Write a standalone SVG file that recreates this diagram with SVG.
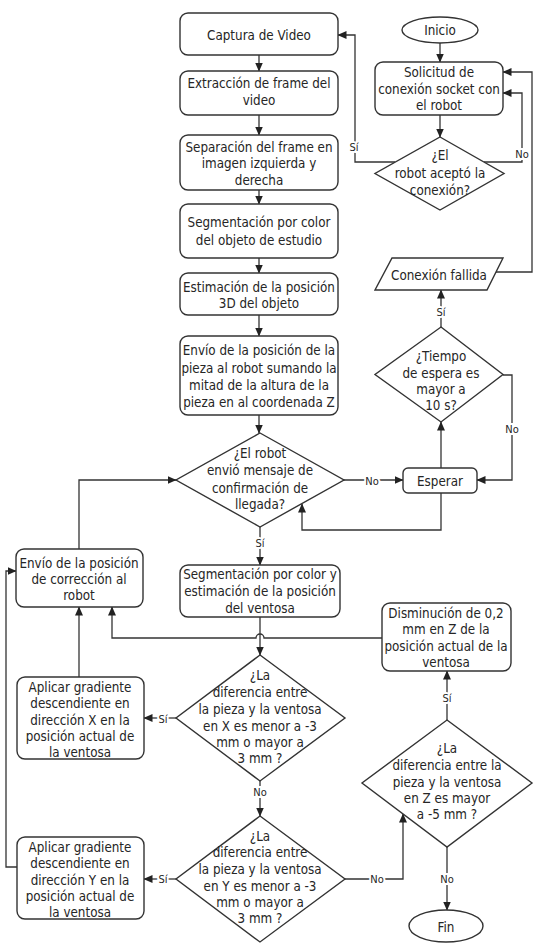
<svg xmlns="http://www.w3.org/2000/svg" width="542" height="951" viewBox="0 0 542 951">
<style>
.b{fill:#fff;stroke:#333;stroke-width:1.4}
.t{font-family:"DejaVu Sans Condensed","DejaVu Sans",sans-serif;font-size:13.3px;fill:#262626;text-anchor:middle;dominant-baseline:central}
.l{fill:none;stroke:#333;stroke-width:1.3}
.lb{font-family:"DejaVu Sans Condensed","DejaVu Sans",sans-serif;font-size:11px;fill:#262626;text-anchor:middle;dominant-baseline:central;stroke:#fff;stroke-width:4;paint-order:stroke}
</style>
<defs>
<marker id="a" markerWidth="9" markerHeight="8" refX="8.5" refY="4" orient="auto" markerUnits="userSpaceOnUse">
<path d="M0,0 L9,4 L0,8 Z" fill="#222"/>
</marker>
</defs>
<rect width="542" height="951" fill="#fff"/>

<g id="connectors">
<path class="l" d="M440,43 V62" marker-end="url(#a)"/>
<path class="l" d="M440,115 V137" marker-end="url(#a)"/>
<path class="l" d="M395,162 H355 V35 H338" marker-end="url(#a)"/>
<path class="l" d="M484,162 H522 V93 H503" marker-end="url(#a)"/>
<path class="l" d="M496,272 H532 V72 H503" marker-end="url(#a)"/>
<path class="l" d="M259,55 V71" marker-end="url(#a)"/>
<path class="l" d="M259,115 V135" marker-end="url(#a)"/>
<path class="l" d="M259,190 V204" marker-end="url(#a)"/>
<path class="l" d="M259,258 V273" marker-end="url(#a)"/>
<path class="l" d="M259,315 V336" marker-end="url(#a)"/>
<path class="l" d="M259,415 V433" marker-end="url(#a)"/>
<path class="l" d="M441,327 V290" marker-end="url(#a)"/>
<path class="l" d="M503,375 H512 V480 H477" marker-end="url(#a)"/>
<path class="l" d="M441,468 V422" marker-end="url(#a)"/>
<path class="l" d="M344,480 H403" marker-end="url(#a)"/>
<path class="l" d="M441,493 V530 H302 V504" marker-end="url(#a)"/>
<path class="l" d="M79,549 V480 H176" marker-end="url(#a)"/>
<path class="l" d="M260,527 V565" marker-end="url(#a)"/>
<path class="l" d="M260,617 V655" marker-end="url(#a)"/>
<path class="l" d="M382,638 H264 A4,4 0 0 0 256,638 H112 V607" marker-end="url(#a)"/>
<path class="l" d="M79,677 V607" marker-end="url(#a)"/>
<path class="l" d="M176,718 H144" marker-end="url(#a)"/>
<path class="l" d="M260,781 V816" marker-end="url(#a)"/>
<path class="l" d="M176,879 H144" marker-end="url(#a)"/>
<path class="l" d="M17,867 H6 V571 H16" marker-end="url(#a)"/>
<path class="l" d="M345,879 H403 V814" marker-end="url(#a)"/>
<path class="l" d="M447,720 V671" marker-end="url(#a)"/>
<path class="l" d="M447,847 V910" marker-end="url(#a)"/>
<text class="lb" x="354" y="147">Sí</text>
<text class="lb" x="522" y="154">No</text>
<text class="lb" x="441" y="312">Sí</text>
<text class="lb" x="512" y="429">No</text>
<text class="lb" x="372" y="481">No</text>
<text class="lb" x="260" y="543">Sí</text>
<text class="lb" x="163" y="719">Sí</text>
<text class="lb" x="260" y="792">No</text>
<text class="lb" x="163" y="879">Sí</text>
<text class="lb" x="377" y="879">No</text>
<text class="lb" x="447" y="698">Sí</text>
<text class="lb" x="447" y="879">No</text>
</g>

<g id="inicio">
<ellipse class="b" cx="440" cy="30" rx="38" ry="13"/>
<text class="t" x="440" y="30">Inicio</text>
</g>
<g id="solicitud">
<rect class="b" x="375" y="62" width="128" height="53" rx="8"/>
<text class="t" x="439" y="72">Solicitud de</text>
<text class="t" x="439" y="89">conexión socket con</text>
<text class="t" x="439" y="105">el robot</text>
</g>
<g id="aceptoConexion">
<polygon class="b" points="440,137 504,173.5 440,210 375,173.5"/>
<text class="t" x="440" y="155">¿El</text>
<text class="t" x="440" y="173">robot aceptó la</text>
<text class="t" x="440" y="190">conexión?</text>
</g>
<g id="captura">
<rect class="b" x="180" y="13" width="158" height="42" rx="8"/>
<text class="t" x="259" y="35">Captura de Video</text>
</g>
<g id="extraccion">
<rect class="b" x="180" y="71" width="158" height="44" rx="8"/>
<text class="t" x="259" y="83">Extracción de frame del</text>
<text class="t" x="259" y="100">video</text>
</g>
<g id="separacion">
<rect class="b" x="180" y="135" width="158" height="55" rx="8"/>
<text class="t" x="259" y="147">Separación del frame en</text>
<text class="t" x="259" y="163">imagen izquierda y</text>
<text class="t" x="259" y="180">derecha</text>
</g>
<g id="segmentacion">
<rect class="b" x="180" y="204" width="158" height="54" rx="8"/>
<text class="t" x="259" y="222">Segmentación por color</text>
<text class="t" x="259" y="240">del objeto de estudio</text>
</g>
<g id="estimacion">
<rect class="b" x="180" y="273" width="158" height="42" rx="8"/>
<text class="t" x="259" y="287">Estimación de la posición</text>
<text class="t" x="259" y="303">3D del objeto</text>
</g>
<g id="envio">
<rect class="b" x="180" y="336" width="158" height="79" rx="8"/>
<text class="t" x="259" y="350">Envío de la posición de la</text>
<text class="t" x="259" y="368">pieza al robot sumando la</text>
<text class="t" x="259" y="385">mitad de la altura de la</text>
<text class="t" x="259" y="402">pieza en al coordenada Z</text>
</g>
<g id="conexionFallida">
<polygon class="b" points="392,258 503,258 487,290 375,290"/>
<text class="t" x="439" y="275">Conexión fallida</text>
</g>
<g id="tiempo">
<polygon class="b" points="441,327 503,374.5 441,422 375,374.5"/>
<text class="t" x="441" y="356">¿Tiempo</text>
<text class="t" x="441" y="373">de espera es</text>
<text class="t" x="441" y="389">mayor a</text>
<text class="t" x="441" y="405">10 s?</text>
</g>
<g id="llegada">
<polygon class="b" points="260,433 344,480 260,527 176,480"/>
<text class="t" x="260" y="453">¿El robot</text>
<text class="t" x="260" y="470">envió mensaje de</text>
<text class="t" x="260" y="488">confirmación de</text>
<text class="t" x="260" y="504">llegada?</text>
</g>
<g id="esperar">
<rect class="b" x="403" y="468" width="74" height="25" rx="5"/>
<text class="t" x="440" y="481">Esperar</text>
</g>
<g id="envioCorreccion">
<rect class="b" x="16" y="549" width="127" height="58" rx="8"/>
<text class="t" x="79" y="563">Envío de la posición</text>
<text class="t" x="79" y="579">de corrección al</text>
<text class="t" x="79" y="595">robot</text>
</g>
<g id="segVentosa">
<rect class="b" x="180" y="565" width="160" height="52" rx="8"/>
<text class="t" x="260" y="574">Segmentación por color y</text>
<text class="t" x="260" y="591">estimación de la posición</text>
<text class="t" x="260" y="608">del ventosa</text>
</g>
<g id="disminucion">
<rect class="b" x="382" y="603" width="129" height="68" rx="8"/>
<text class="t" x="446" y="613">Disminución de 0,2</text>
<text class="t" x="446" y="629">mm en Z de la</text>
<text class="t" x="446" y="646">posición actual de la</text>
<text class="t" x="446" y="662">ventosa</text>
</g>
<g id="difX">
<polygon class="b" points="260,655 345,718 260,781 176,718"/>
<text class="t" x="260" y="675">¿La</text>
<text class="t" x="260" y="692">diferencia entre</text>
<text class="t" x="260" y="709">la pieza y la ventosa</text>
<text class="t" x="260" y="726">en X es menor a -3</text>
<text class="t" x="260" y="742">mm o mayor a</text>
<text class="t" x="260" y="758">3 mm ?</text>
</g>
<g id="gradX">
<rect class="b" x="17" y="677" width="127" height="82" rx="8"/>
<text class="t" x="80" y="687">Aplicar gradiente</text>
<text class="t" x="80" y="703">descendiente en</text>
<text class="t" x="80" y="720">dirección X en la</text>
<text class="t" x="80" y="736">posición actual de</text>
<text class="t" x="80" y="752">la ventosa</text>
</g>
<g id="difZ">
<polygon class="b" points="447,720 532,783 447,847 362,783"/>
<text class="t" x="447" y="748">¿La</text>
<text class="t" x="447" y="765">diferencia entre la</text>
<text class="t" x="447" y="782">pieza y la ventosa</text>
<text class="t" x="447" y="798">en Z es mayor</text>
<text class="t" x="447" y="814">a -5 mm ?</text>
</g>
<g id="difY">
<polygon class="b" points="260,816 345,879 260,942 176,879"/>
<text class="t" x="260" y="836">¿La</text>
<text class="t" x="260" y="852">diferencia entre</text>
<text class="t" x="260" y="869">la pieza y la ventosa</text>
<text class="t" x="260" y="886">en Y es menor a -3</text>
<text class="t" x="260" y="902">mm o mayor a</text>
<text class="t" x="260" y="918">3 mm ?</text>
</g>
<g id="gradY">
<rect class="b" x="17" y="837" width="127" height="82" rx="8"/>
<text class="t" x="80" y="847">Aplicar gradiente</text>
<text class="t" x="80" y="863">descendiente en</text>
<text class="t" x="80" y="880">dirección Y en la</text>
<text class="t" x="80" y="896">posición actual de</text>
<text class="t" x="80" y="912">la ventosa</text>
</g>
<g id="fin">
<ellipse class="b" cx="446" cy="926" rx="37" ry="16"/>
<text class="t" x="446" y="927">Fin</text>
</g>
</svg>
